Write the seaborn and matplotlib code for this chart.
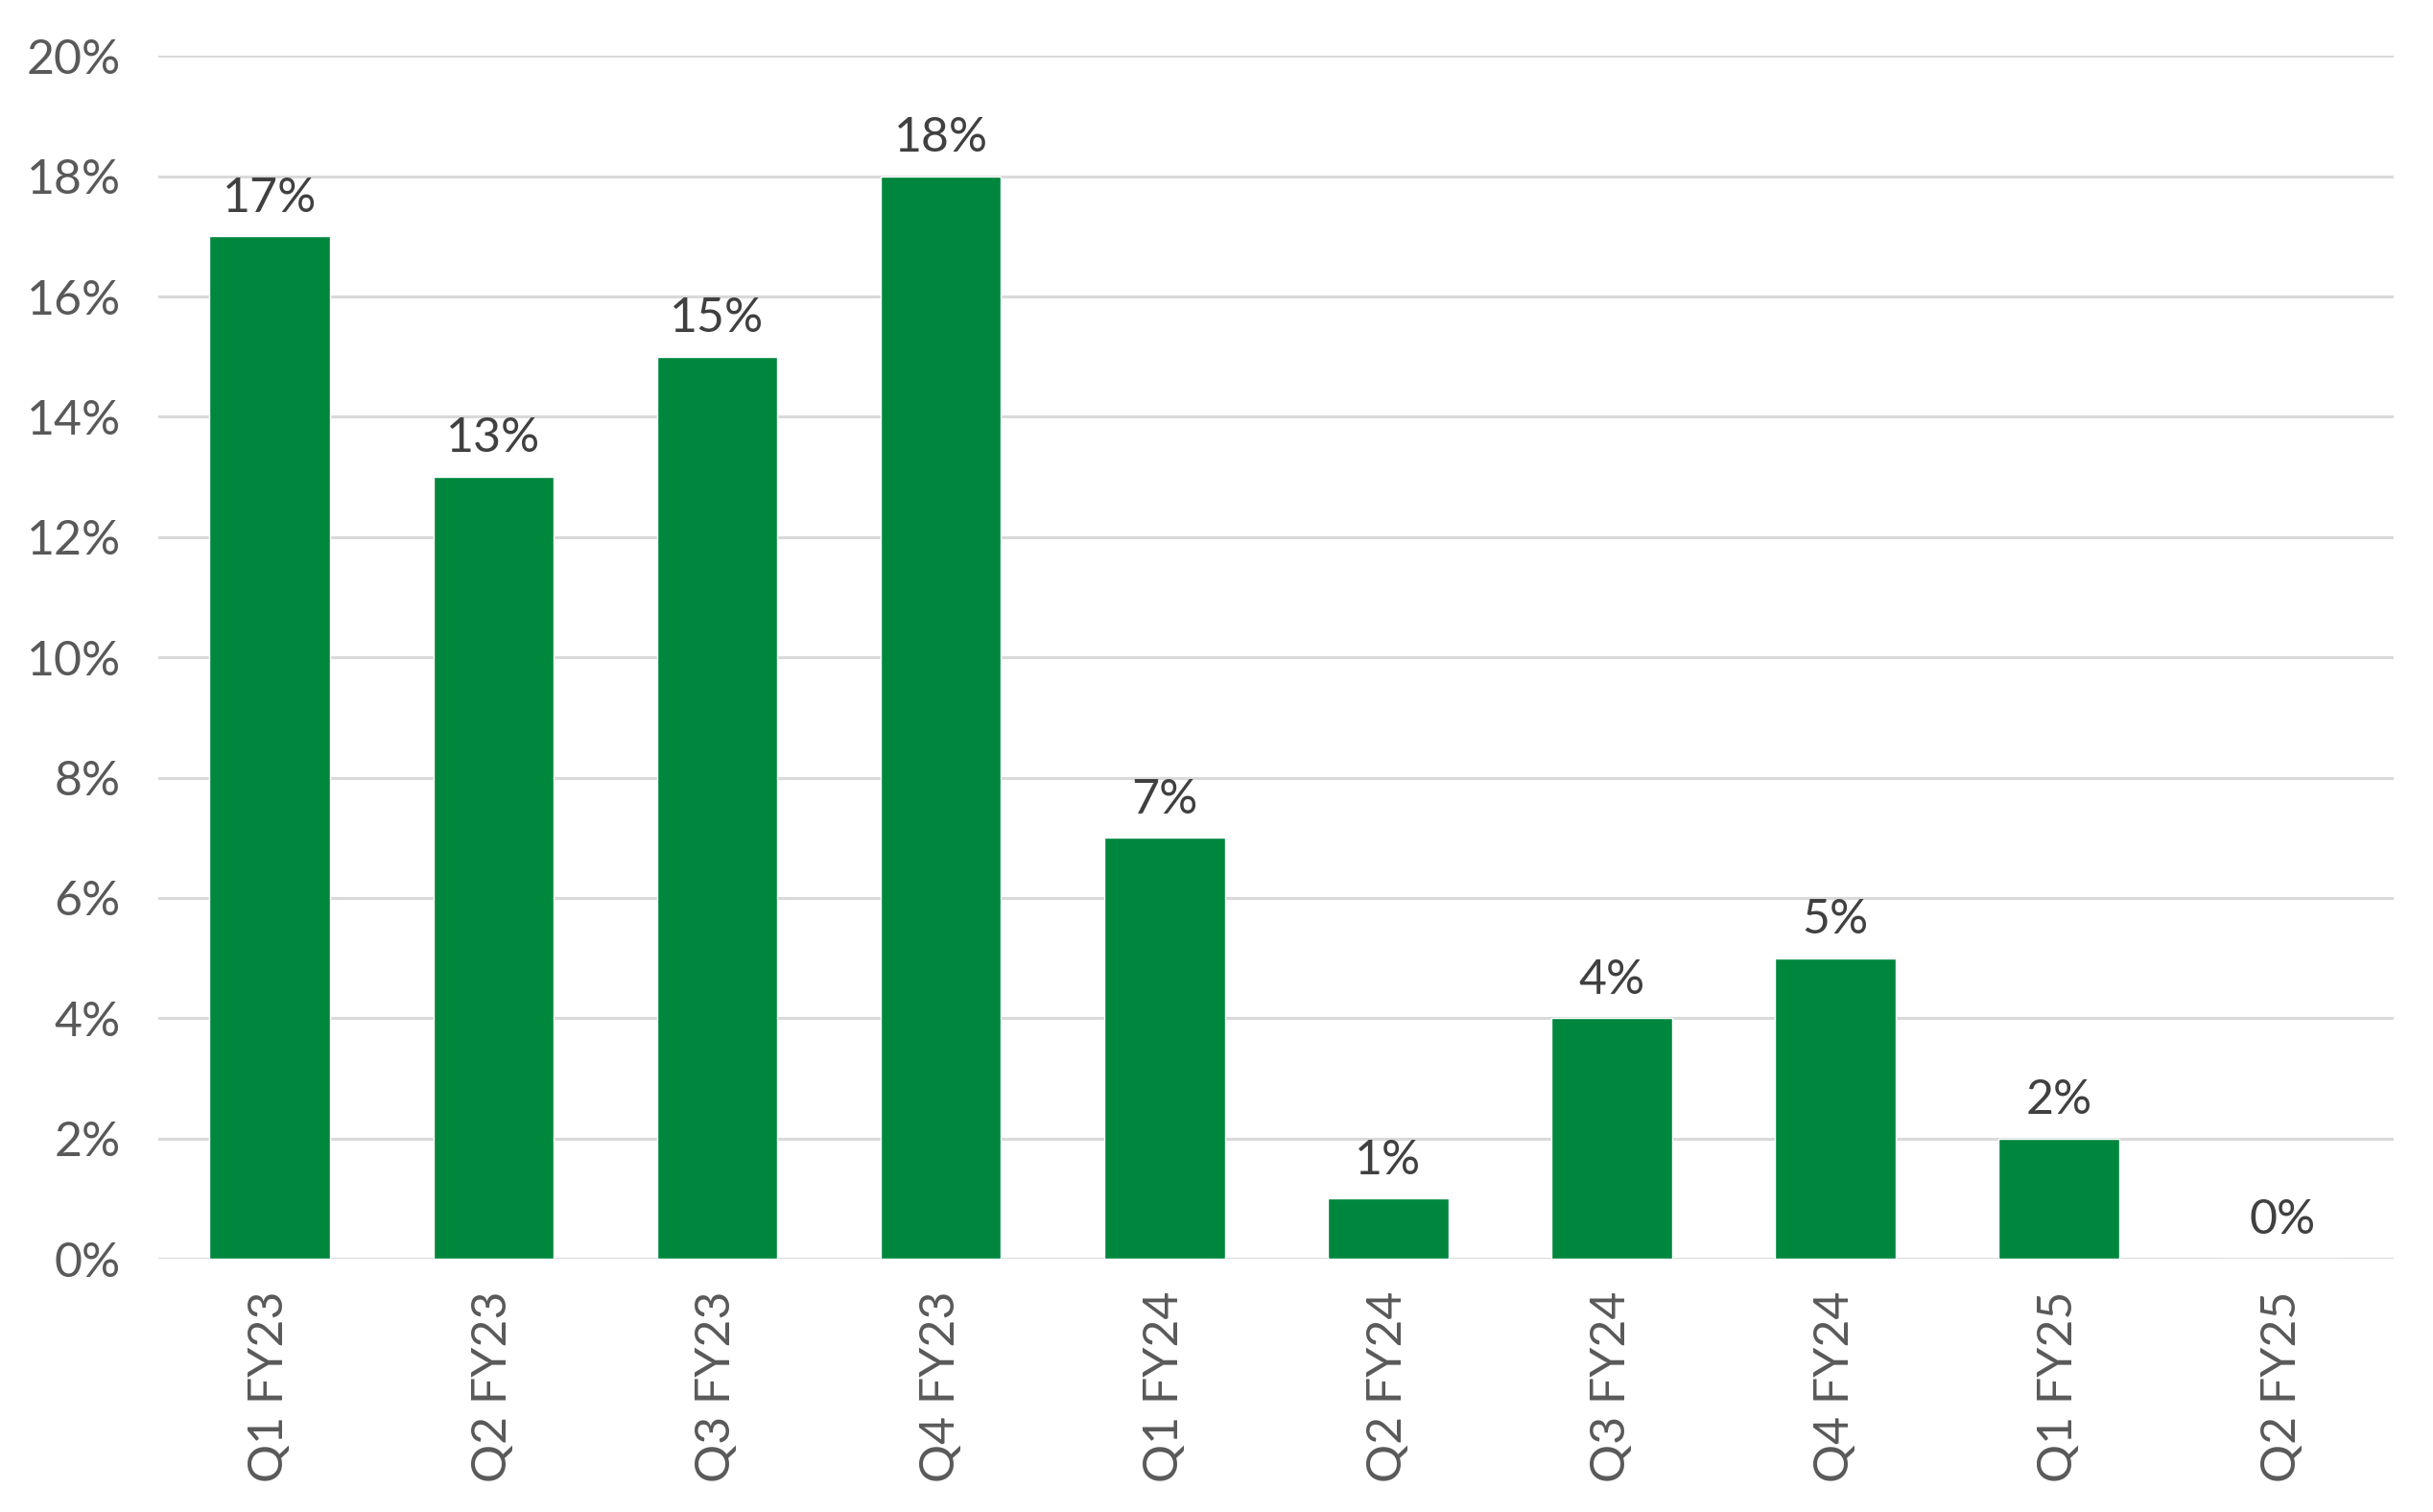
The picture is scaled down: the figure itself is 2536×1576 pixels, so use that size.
import matplotlib
matplotlib.use("Agg")
import matplotlib.pyplot as plt
import seaborn as sns
import pandas as pd
from matplotlib.ticker import FuncFormatter

categories = ["Q1 FY23", "Q2 FY23", "Q3 FY23", "Q4 FY23", "Q1 FY24",
              "Q2 FY24", "Q3 FY24", "Q4 FY24", "Q1 FY25", "Q2 FY25"]
values = [17, 13, 15, 18, 7, 1, 4, 5, 2, 0]
yticks = [0, 2, 4, 6, 8, 10, 12, 14, 16, 18, 20]

sns.set_style("white")
plt.rcParams["font.family"] = ["Lato", "DejaVu Sans"]

df = pd.DataFrame({"quarter": categories, "value": values})

fig = plt.figure(figsize=(25.36, 15.76), dpi=100)
ax = fig.add_axes([0.065, 0.1675, 0.919, 0.7955])

sns.barplot(data=df, x="quarter", y="value", color="#00873E", saturation=1,
            width=0.54, ax=ax, zorder=3)

ax.set_ylim(0, 20)
ax.set_xlim(-0.5, len(categories) - 0.5)
ax.set_yticks(yticks)
ax.yaxis.set_major_formatter(FuncFormatter(lambda v, p: f"{int(v)}%"))
ax.grid(axis="y", color="#D9D9D9", linewidth=2.2, zorder=0)
ax.set_axisbelow(True)
for s in ax.spines.values():
    s.set_visible(False)
ax.set_xlabel("")
ax.set_ylabel("")
ax.tick_params(axis="both", length=0, labelsize=36, colors="#595959")
ax.tick_params(axis="y", pad=28)
ax.tick_params(axis="x", pad=24)
for lbl in ax.get_xticklabels():
    lbl.set_rotation(90)

for i, v in enumerate(values):
    ax.annotate(f"{v}%", (i, v), xytext=(0, 12), textcoords="offset points",
                ha="center", va="bottom", fontsize=36, color="#404040")

fig.savefig("out.png", dpi=100)
